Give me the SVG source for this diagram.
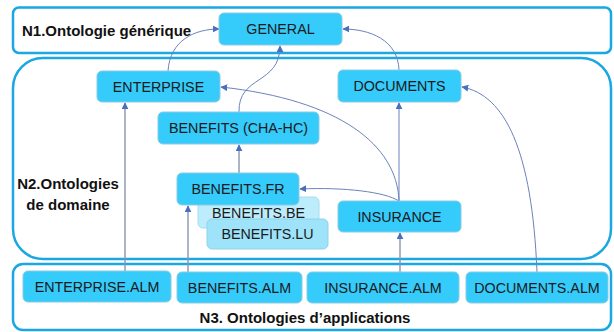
<svg xmlns="http://www.w3.org/2000/svg" width="614" height="332" viewBox="0 0 614 332">
<defs>
<marker id="ah" viewBox="0 0 10 10" refX="9" refY="5" markerWidth="7" markerHeight="7" markerUnits="userSpaceOnUse" orient="auto">
<path d="M0,0 L10,5 L0,10 z" fill="#4A6FBF"/>
</marker>
<style>
.cont{fill:#fff;stroke:#1AA7E2;stroke-width:2.5}
.node{fill:#35CBFB;stroke:#8CCBE0;stroke-width:1}
.be{fill:#BDEDFC;stroke:#A6DCEE;stroke-width:1}
.lu{fill:#9EE3F9;stroke:#8FD3EA;stroke-width:1}
.t{font-family:"Liberation Sans",Arial,sans-serif;font-size:14.3px;fill:#1a1a1a;text-anchor:middle}
.lbl{font-family:"Liberation Sans",Arial,sans-serif;font-size:15px;font-weight:bold;fill:#111}
.c{fill:none;stroke:#6C82BE;stroke-width:1;marker-end:url(#ah)}
.v{fill:none;stroke:#8A94AE;stroke-width:1.4;marker-end:url(#ah)}
</style>
</defs>
<rect class="cont" x="13" y="7.5" width="598" height="45.5" rx="6"/>
<rect class="cont" x="13" y="58" width="598" height="201" rx="30"/>
<rect class="cont" x="13" y="264" width="598" height="66" rx="10"/>
<text class="lbl" x="22" y="36">N1.Ontologie générique</text>
<text class="lbl" x="68" y="189" text-anchor="middle">N2.Ontologies</text>
<text class="lbl" x="68" y="210" text-anchor="middle">de domaine</text>
<text class="lbl" x="305" y="323" text-anchor="middle">N3. Ontologies d’applications</text>
<g id="connectors">
<path class="v" d="M125,271 L125,103"/>
<path class="v" d="M188,272 L188,206"/>
<path class="v" d="M400,272 L400,233"/>
<path class="v" d="M239,173 L239,145"/>
<path class="c" d="M399,201 L399,103"/>
<path class="c" d="M537,272 C532,150 505,95 462,87"/>
<path class="c" d="M399,201 C385,192 345,187 300,189"/>
<path class="c" d="M399,201 C397,145 340,100 221,87"/>
<path class="c" d="M239,112 C238,75 280,85 280,46"/>
<path class="c" d="M168,71 C170,40 195,29 219,29"/>
<path class="c" d="M399,70 C398,40 370,29 343,29"/>
</g>
<g id="general"><rect class="node" x="219" y="13" width="123" height="32" rx="5"/><text class="t" x="280.5" y="34">GENERAL</text></g>
<g id="enterprise"><rect class="node" x="97" y="71" width="123" height="31" rx="5"/><text class="t" x="158.5" y="92">ENTERPRISE</text></g>
<g id="documents"><rect class="node" x="338" y="70" width="123" height="32" rx="5"/><text class="t" x="399.5" y="91">DOCUMENTS</text></g>
<g id="benefits-cha-hc"><rect class="node" x="158" y="112" width="161" height="32" rx="5"/><text class="t" x="238.5" y="133">BENEFITS (CHA-HC)</text></g>
<g id="benefits-be"><rect class="be" x="198" y="197" width="121" height="31" rx="5"/><text class="t" x="258.5" y="218">BENEFITS.BE</text></g>
<g id="benefits-lu"><rect class="lu" x="207" y="219" width="121" height="30" rx="5"/><text class="t" x="267.5" y="239">BENEFITS.LU</text></g>
<g id="benefits-fr"><rect class="node" x="177" y="173" width="122" height="32" rx="5"/><text class="t" x="238" y="194">BENEFITS.FR</text></g>
<g id="insurance"><rect class="node" x="338" y="201" width="123" height="31" rx="5"/><text class="t" x="399.5" y="222">INSURANCE</text></g>
<g id="enterprise-alm"><rect class="node" x="23" y="271" width="148" height="31" rx="5"/><text class="t" x="97" y="292">ENTERPRISE.ALM</text></g>
<g id="benefits-alm"><rect class="node" x="177" y="272" width="125" height="31" rx="5"/><text class="t" x="239.5" y="293">BENEFITS.ALM</text></g>
<g id="insurance-alm"><rect class="node" x="307" y="272" width="152" height="31" rx="5"/><text class="t" x="383" y="293">INSURANCE.ALM</text></g>
<g id="documents-alm"><rect class="node" x="466" y="272" width="142" height="31" rx="5"/><text class="t" x="537" y="293">DOCUMENTS.ALM</text></g>
</svg>
